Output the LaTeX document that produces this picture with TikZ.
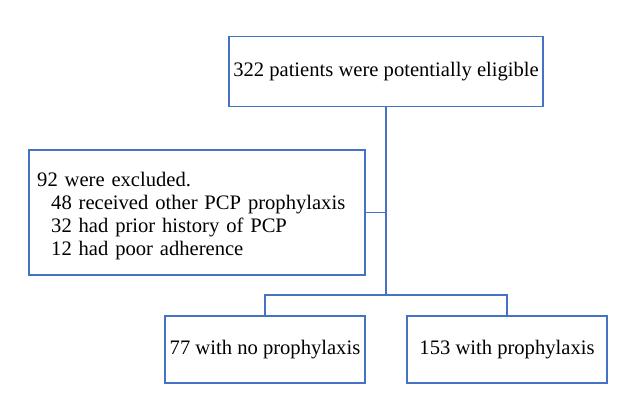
\documentclass[tikz,border=0pt]{standalone}
\usepackage{fontspec}
\setmainfont{Liberation Serif}
\definecolor{boxblue}{HTML}{4472C4}
\begin{document}
\begin{tikzpicture}[x=1pt,y=-1pt,
  box/.style={draw=boxblue,line width=1.6pt,inner sep=0pt,font=\fontsize{20.6}{23.3}\selectfont},
  conn/.style={draw=boxblue,line width=1.6pt}]
\useasboundingbox (0,0) rectangle (640,403);
\node[box,minimum width=314pt,minimum height=70pt] (top) at (386,71.5) {322 patients were potentially eligible};
\node[box,minimum width=336pt,minimum height=125pt] (excl) at (197,212.5) {};
\node[font=\fontsize{20.6}{23.3}\selectfont,text width=324pt,align=left,inner sep=0pt,anchor=west] (excltext) at (37,216)
  {92 were excluded.\\
   \hspace*{14pt}48 received other PCP prophylaxis\\
   \hspace*{14pt}32 had prior history of PCP\\
   \hspace*{14pt}12 had poor adherence};
\node[box,minimum width=200pt,minimum height=67pt] (nop) at (265,349.5) {77 with no prophylaxis};
\node[box,minimum width=200pt,minimum height=67pt] (wp) at (507,349.5) {153 with prophylaxis};
\coordinate (split) at (386,295);
\draw[conn] (top.south) -- (split);
\draw[conn] (excl.east) -- (excl.east -| top.south);
\draw[conn] (split) -| (nop.north);
\draw[conn] (split) -| (wp.north);
\end{tikzpicture}
\end{document}
